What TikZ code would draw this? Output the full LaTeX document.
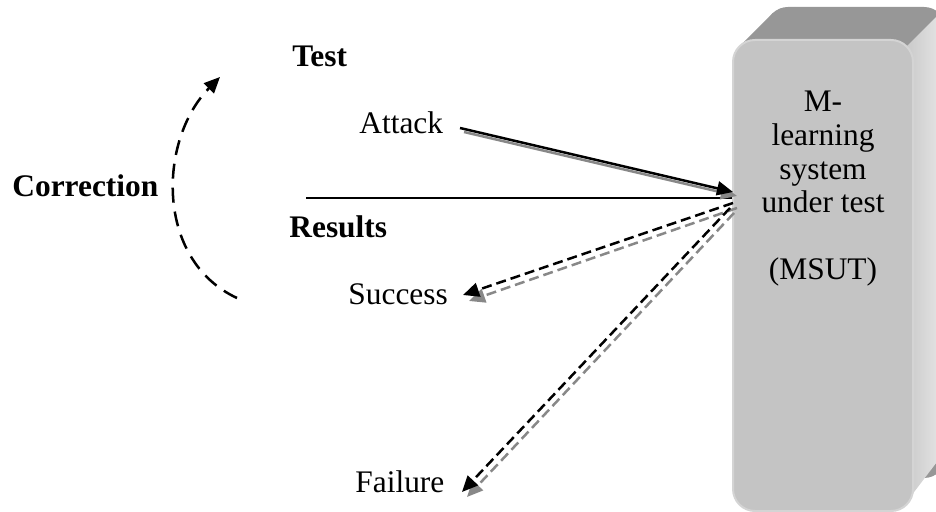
\documentclass[tikz,border=0pt]{standalone}
\usepackage{fontspec}
\setmainfont{Liberation Serif}
\usetikzlibrary{arrows.meta,calc}
\definecolor{frontgray}{HTML}{C4C4C4}
\definecolor{topgray}{HTML}{979797}
\definecolor{sidelight}{HTML}{E8E8E8}
\definecolor{sidedark}{HTML}{CACACA}
\definecolor{rimgray}{HTML}{D4D4D4}
\definecolor{shadowgray}{HTML}{888888}
\tikzset{
  lbl/.style={inner sep=0pt, anchor=base west, font=\fontsize{15.7}{18}\selectfont},
  blbl/.style={inner sep=0pt, anchor=base west, font=\fontsize{15.7}{18}\selectfont\bfseries},
  tiphead/.style={-{Triangle[length=8pt,width=7pt]}},
  solidarrow/.style={tiphead, line width=1.25pt},
  dasharrow/.style={tiphead, line width=1.25pt, dash pattern=on 5pt off 2.5pt},
  corrarrow/.style={-{Triangle[length=8pt,width=7pt]}, line width=1.25pt, dash pattern=on 7.5pt off 4.5pt},
  frontface/.style={draw=rimgray, line width=1pt, fill=frontgray, rounded corners=11pt,
    minimum width=90pt, minimum height=235.5pt, inner sep=0pt},
}
\begin{document}
\begin{tikzpicture}[x=0.5pt,y=-0.5pt]
\useasboundingbox (0,0) rectangle (936,512);
% --- 3D box (back / top / side)
\begin{scope}
  \clip (0,0) rectangle (936,512);
  \fill[topgray, rounded corners=11pt] (766,7) rectangle (946,478);
  \fill[topgray]
    (739.4,46.4) -- (772.4,13.4) -- (781,8.5) -- (795,7) -- (795,70) -- (745,70) -- cycle;
  \shade[left color=sidedark, right color=sidelight]
    (906.6,46.4) -- (939.6,13.4) -- (946,13.4) -- (946,450) -- (908,500) -- (913,480) -- (913,60) -- cycle;
\end{scope}
% --- front face
\node[frontface] (msut) at (823,275.5) {};
\node[align=center, inner sep=0pt, anchor=north, font=\fontsize{15.7}{16.8}\selectfont] (msuttxt) at (823,91)
  {M-\\learning\\system\\under test\\[16.8pt](MSUT)};
% --- labels
\node[blbl] (test) at (292,67) {Test};
\node[lbl] (attack) at (359,134) {Attack};
\node[blbl] (results) at (289,238) {Results};
\node[lbl] (success) at (348,305) {Success};
\node[lbl] (failure) at (355,493) {Failure};
\node[blbl] (correction) at (12,197) {Correction};
% --- connector end points
\coordinate (atkS) at (460,128);
\coordinate (atkE) at (733,192);
\coordinate (hlS) at (306,198);
\coordinate (sucS) at (733,203);
\coordinate (sucE) at (463,295);
\coordinate (failS) at (730,208);
\coordinate (failE) at (462,492);
\coordinate (corS) at (237,298);
\coordinate (corE) at (220,77);
% --- horizontal separator
\draw[line width=1.1pt] (hlS) -- (hlS -| msut.west);
% --- shadows
\draw[solidarrow, shadowgray] ($(atkS)+(4,4)$) -- ($(atkE)+(4,4)$);
\draw[dasharrow, shadowgray] ($(sucS)+(4,5)$) -- ($(sucE)+(6,6)$);
\draw[dasharrow, shadowgray] ($(failS)+(4,5)$) -- ($(failE)+(5,5)$);
% --- arrows
\draw[solidarrow] (atkS) -- (atkE);
\draw[dasharrow] (sucS) -- (sucE);
\draw[dasharrow] (failS) -- (failE);
\draw[corrarrow] (corS) .. controls (155,260) and (158,140) .. (corE);
\end{tikzpicture}
\end{document}
